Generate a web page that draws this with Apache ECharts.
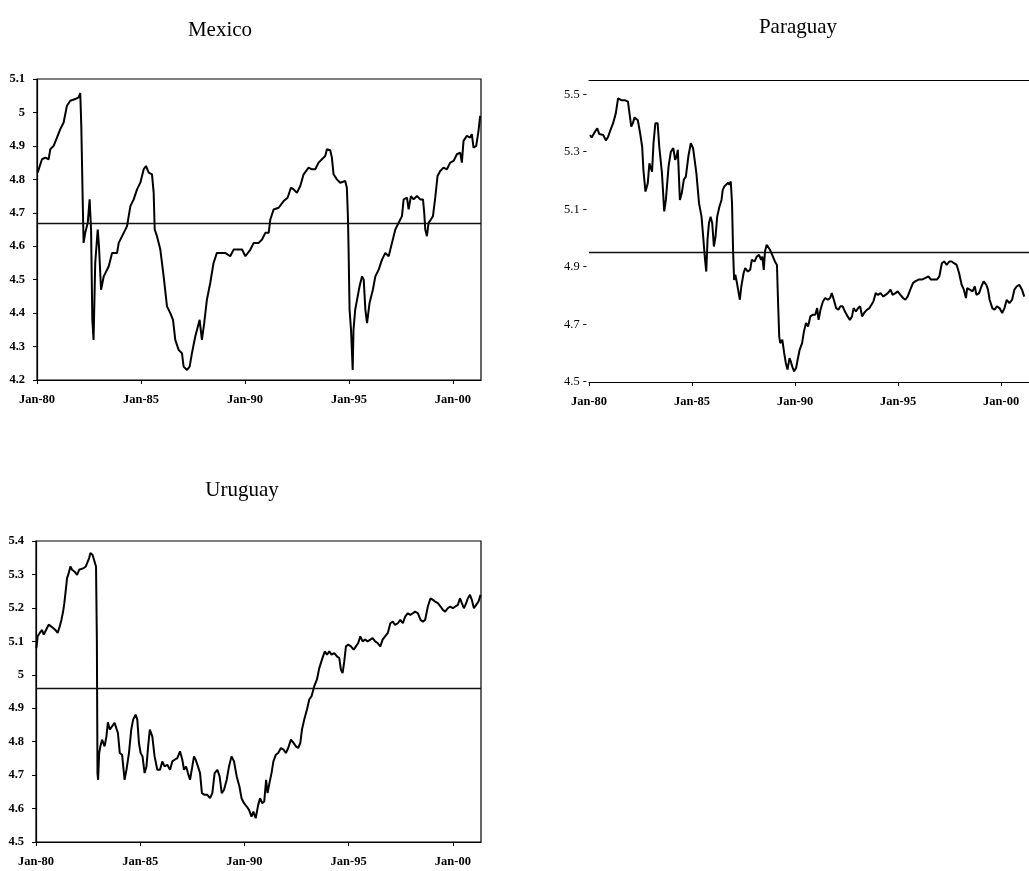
<!DOCTYPE html>
<html>
<head>
<meta charset="utf-8">
<script src="https://cdn.jsdelivr.net/npm/echarts@6/dist/echarts.min.js"></script>
<style>
html,body{margin:0;padding:0;background:#fff;}
#chart{width:1029px;height:871px;}
</style>
</head>
<body>
<div id="chart"></div>
<script>
// Mexico
const mexYears = [1980.03,1980.24,1980.40,1980.56,1980.64,1980.80,1980.96,1981.12,1981.28,1981.44,1981.60,1981.84,1982.00,1982.08,1982.13,1982.20,1982.24,1982.32,1982.44,1982.53,1982.60,1982.66,1982.72,1982.80,1982.92,1982.98,1983.08,1983.21,1983.45,1983.61,1983.85,1983.93,1984.17,1984.33,1984.49,1984.65,1984.81,1984.97,1985.13,1985.24,1985.37,1985.53,1985.61,1985.66,1985.77,1985.93,1986.09,1986.25,1986.41,1986.54,1986.65,1986.81,1986.97,1987.05,1987.21,1987.34,1987.45,1987.61,1987.82,1987.93,1988.04,1988.17,1988.33,1988.49,1988.65,1988.81,1989.05,1989.29,1989.46,1989.70,1989.86,1990.02,1990.26,1990.42,1990.66,1990.82,1990.98,1991.14,1991.22,1991.38,1991.62,1991.86,1992.05,1992.21,1992.34,1992.50,1992.66,1992.82,1993.06,1993.22,1993.38,1993.54,1993.70,1993.86,1993.94,1994.10,1994.18,1994.26,1994.42,1994.58,1994.82,1994.90,1994.95,1994.98,1995.03,1995.10,1995.18,1995.22,1995.30,1995.42,1995.51,1995.63,1995.71,1995.79,1995.87,1995.99,1996.15,1996.27,1996.43,1996.59,1996.75,1996.91,1997.07,1997.23,1997.39,1997.55,1997.63,1997.79,1997.87,1997.98,1998.11,1998.27,1998.43,1998.56,1998.62,1998.67,1998.75,1998.83,1998.94,1999.04,1999.15,1999.26,1999.39,1999.55,1999.71,1999.87,2000.03,2000.19,2000.35,2000.43,2000.51,2000.67,2000.83,2000.91,2000.99,2001.12,2001.23,2001.31];
const mexValues = [4.82,4.86,4.865,4.86,4.89,4.90,4.925,4.95,4.97,5.02,5.035,5.04,5.045,5.058,4.96,4.73,4.61,4.64,4.67,4.74,4.65,4.38,4.32,4.55,4.65,4.60,4.47,4.51,4.54,4.58,4.58,4.61,4.64,4.66,4.72,4.74,4.77,4.79,4.83,4.84,4.82,4.815,4.76,4.65,4.63,4.59,4.51,4.42,4.40,4.38,4.32,4.29,4.28,4.24,4.23,4.24,4.28,4.33,4.38,4.32,4.37,4.44,4.49,4.55,4.58,4.58,4.58,4.57,4.59,4.59,4.59,4.57,4.59,4.61,4.61,4.62,4.64,4.64,4.68,4.71,4.715,4.735,4.745,4.775,4.77,4.76,4.78,4.815,4.835,4.83,4.83,4.85,4.86,4.87,4.89,4.887,4.865,4.815,4.80,4.79,4.795,4.775,4.69,4.60,4.41,4.35,4.23,4.35,4.41,4.45,4.48,4.51,4.50,4.41,4.37,4.43,4.47,4.51,4.53,4.56,4.58,4.57,4.61,4.65,4.67,4.69,4.74,4.745,4.71,4.75,4.74,4.75,4.74,4.74,4.70,4.65,4.63,4.67,4.68,4.69,4.745,4.81,4.825,4.835,4.83,4.85,4.855,4.875,4.88,4.85,4.915,4.93,4.925,4.935,4.895,4.90,4.945,4.99];
const mexMean = 4.675;

// Paraguay
const parYears = [1980.05,1980.13,1980.29,1980.40,1980.50,1980.69,1980.82,1980.93,1981.04,1981.17,1981.30,1981.41,1981.49,1981.57,1981.73,1981.89,1981.97,1982.05,1982.13,1982.21,1982.37,1982.48,1982.58,1982.64,1982.74,1982.85,1982.93,1983.06,1983.13,1983.22,1983.33,1983.41,1983.54,1983.65,1983.73,1983.86,1983.97,1984.09,1984.18,1984.25,1984.31,1984.41,1984.50,1984.60,1984.70,1984.82,1984.94,1985.05,1985.14,1985.21,1985.34,1985.46,1985.54,1985.63,1985.69,1985.75,1985.82,1985.90,1985.98,1986.06,1986.14,1986.22,1986.33,1986.43,1986.49,1986.57,1986.65,1986.75,1986.81,1986.88,1986.94,1986.99,1987.04,1987.10,1987.18,1987.26,1987.32,1987.39,1987.50,1987.58,1987.71,1987.82,1987.90,1988.03,1988.14,1988.25,1988.35,1988.41,1988.48,1988.54,1988.62,1988.70,1988.78,1988.89,1989.02,1989.12,1989.18,1989.23,1989.28,1989.38,1989.47,1989.55,1989.63,1989.73,1989.79,1989.86,1989.95,1990.05,1990.11,1990.22,1990.34,1990.43,1990.53,1990.63,1990.74,1990.87,1990.98,1991.07,1991.14,1991.23,1991.35,1991.46,1991.59,1991.70,1991.78,1991.88,1991.99,1992.10,1992.20,1992.31,1992.42,1992.55,1992.66,1992.76,1992.84,1992.95,1993.06,1993.16,1993.25,1993.35,1993.48,1993.61,1993.70,1993.80,1993.91,1994.02,1994.15,1994.28,1994.39,1994.50,1994.63,1994.73,1994.87,1994.98,1995.11,1995.24,1995.35,1995.46,1995.59,1995.72,1995.83,1995.99,1996.15,1996.31,1996.47,1996.59,1996.71,1996.88,1997.00,1997.12,1997.23,1997.36,1997.48,1997.60,1997.71,1997.84,1997.96,1998.08,1998.19,1998.29,1998.35,1998.48,1998.61,1998.72,1998.80,1998.93,1999.04,1999.15,1999.28,1999.36,1999.44,1999.57,1999.68,1999.79,1999.92,2000.05,2000.16,2000.27,2000.40,2000.53,2000.64,2000.75,2000.88,2001.01,2001.12];
const parValues = [5.359,5.35,5.37,5.382,5.362,5.359,5.34,5.353,5.376,5.40,5.434,5.486,5.49,5.48,5.48,5.475,5.48,5.388,5.40,5.42,5.41,5.365,5.318,5.237,5.162,5.19,5.26,5.231,5.33,5.40,5.40,5.318,5.226,5.093,5.133,5.249,5.30,5.313,5.272,5.284,5.307,5.133,5.156,5.203,5.214,5.284,5.33,5.313,5.307,5.226,5.121,5.075,5.006,4.925,4.884,4.994,5.052,5.075,5.052,4.971,5.006,5.075,5.11,5.133,5.168,5.18,5.174,5.193,5.186,5.197,5.121,4.96,4.855,4.873,4.844,4.85,4.786,4.832,4.878,4.896,4.884,4.89,4.925,4.919,4.936,4.942,4.925,4.936,4.89,4.954,4.977,4.971,4.96,4.942,4.919,4.907,4.763,4.658,4.635,4.647,4.601,4.566,4.543,4.583,4.572,4.554,4.537,4.549,4.572,4.612,4.635,4.676,4.705,4.693,4.728,4.734,4.734,4.757,4.716,4.75,4.78,4.792,4.786,4.792,4.809,4.786,4.757,4.751,4.763,4.763,4.745,4.728,4.716,4.728,4.757,4.745,4.757,4.763,4.728,4.74,4.751,4.757,4.763,4.78,4.809,4.803,4.809,4.797,4.803,4.809,4.821,4.803,4.809,4.815,4.803,4.792,4.786,4.797,4.821,4.844,4.85,4.856,4.856,4.861,4.867,4.856,4.856,4.856,4.867,4.913,4.919,4.907,4.919,4.919,4.913,4.907,4.878,4.838,4.821,4.792,4.826,4.821,4.815,4.832,4.803,4.809,4.832,4.85,4.838,4.821,4.786,4.757,4.751,4.763,4.757,4.74,4.757,4.786,4.774,4.786,4.821,4.832,4.838,4.821,4.797];
const parMean = 4.95;

// Uruguay
const uruYears = [1980.02,1980.08,1980.18,1980.29,1980.37,1980.45,1980.53,1980.61,1980.69,1980.82,1980.93,1981.04,1981.14,1981.22,1981.30,1981.36,1981.43,1981.49,1981.57,1981.65,1981.73,1981.84,1981.97,1982.07,1982.16,1982.29,1982.39,1982.48,1982.55,1982.61,1982.71,1982.80,1982.88,1982.92,1982.95,1982.98,1983.03,1983.09,1983.17,1983.29,1983.38,1983.45,1983.54,1983.65,1983.77,1983.86,1983.93,1984.02,1984.13,1984.25,1984.34,1984.46,1984.57,1984.66,1984.78,1984.86,1984.94,1985.02,1985.11,1985.21,1985.30,1985.38,1985.46,1985.58,1985.69,1985.82,1985.95,1986.06,1986.17,1986.30,1986.43,1986.54,1986.65,1986.78,1986.91,1987.02,1987.10,1987.20,1987.29,1987.39,1987.50,1987.58,1987.66,1987.77,1987.87,1987.96,1988.09,1988.22,1988.35,1988.46,1988.57,1988.70,1988.81,1988.91,1989.02,1989.15,1989.26,1989.38,1989.50,1989.63,1989.76,1989.86,1989.98,1990.11,1990.22,1990.34,1990.43,1990.54,1990.66,1990.75,1990.85,1990.95,1991.04,1991.11,1991.20,1991.30,1991.39,1991.51,1991.62,1991.75,1991.88,1991.99,1992.10,1992.23,1992.36,1992.47,1992.58,1992.68,1992.76,1992.87,1993.00,1993.11,1993.22,1993.35,1993.48,1993.59,1993.67,1993.77,1993.86,1993.96,1994.07,1994.18,1994.31,1994.44,1994.55,1994.63,1994.71,1994.79,1994.87,1994.98,1995.11,1995.24,1995.35,1995.46,1995.56,1995.67,1995.79,1995.91,1996.04,1996.15,1996.27,1996.39,1996.52,1996.63,1996.75,1996.88,1997.00,1997.12,1997.23,1997.36,1997.48,1997.60,1997.71,1997.84,1997.96,1998.08,1998.19,1998.32,1998.45,1998.56,1998.67,1998.80,1998.93,1999.04,1999.15,1999.28,1999.41,1999.52,1999.63,1999.76,1999.87,2000.00,2000.11,2000.24,2000.34,2000.43,2000.53,2000.64,2000.72,2000.82,2000.91,2001.01,2001.12,2001.23,2001.33];
const uruValues = [5.08,5.115,5.125,5.134,5.12,5.115,5.14,5.15,5.145,5.14,5.134,5.125,5.145,5.164,5.189,5.214,5.254,5.289,5.304,5.324,5.314,5.309,5.299,5.314,5.319,5.319,5.324,5.329,5.349,5.364,5.359,5.354,5.324,5.105,4.706,4.686,4.766,4.786,4.806,4.786,4.816,4.858,4.836,4.846,4.856,4.861,4.826,4.766,4.761,4.686,4.716,4.766,4.836,4.866,4.881,4.866,4.796,4.766,4.756,4.706,4.726,4.786,4.836,4.816,4.756,4.716,4.716,4.741,4.726,4.731,4.716,4.741,4.746,4.751,4.771,4.746,4.716,4.726,4.706,4.686,4.726,4.756,4.746,4.726,4.706,4.646,4.641,4.641,4.631,4.646,4.706,4.716,4.696,4.646,4.656,4.686,4.726,4.756,4.741,4.696,4.666,4.631,4.616,4.606,4.596,4.576,4.591,4.571,4.611,4.631,4.616,4.621,4.686,4.646,4.676,4.706,4.741,4.761,4.766,4.781,4.776,4.766,4.781,4.806,4.796,4.786,4.781,4.796,4.836,4.866,4.896,4.926,4.936,4.966,4.986,5.02,5.025,5.055,5.07,5.06,5.07,5.06,5.065,5.055,5.05,5.015,5.005,5.04,5.085,5.09,5.085,5.075,5.085,5.095,5.115,5.10,5.105,5.10,5.105,5.11,5.10,5.095,5.085,5.105,5.115,5.125,5.154,5.159,5.149,5.154,5.164,5.154,5.174,5.184,5.179,5.184,5.189,5.184,5.164,5.159,5.164,5.204,5.229,5.224,5.219,5.214,5.204,5.194,5.189,5.199,5.204,5.199,5.204,5.209,5.229,5.214,5.199,5.214,5.229,5.239,5.224,5.199,5.209,5.219,5.239];
const uruMean = 4.957;

const xStart = 1980;
const xEnd = 2001.35;
const yearStep = 5;

const zip = (xs, ys) => xs.map((x, i) => [x, ys[i]]);
const serif = 'Liberation Serif';

const xLabel = v => (v % 5 === 0 ? 'Jan-' + String(v % 100).padStart(2, '0') : '');

function makeX(grid, opts = {}) {
  return {
    type: 'value', gridIndex: grid, min: xStart, max: xEnd, interval: yearStep,
    axisLine: { show: true, lineStyle: { color: '#000', width: 1.2 } },
    axisTick: { show: true, length: 4, lineStyle: { color: '#000' } },
    splitLine: { show: false },
    axisLabel: {
      formatter: xLabel, showMaxLabel: false, margin: 13,
      fontFamily: serif, fontSize: 12.5, fontWeight: 'bold', color: '#000'
    },
    ...opts
  };
}

function makeY(grid, min, max, opts = {}) {
  return {
    type: 'value', gridIndex: grid, min: min, max: max, interval: 0.1,
    axisLine: { show: true, lineStyle: { color: '#000', width: 1.2 } },
    axisTick: { show: true, length: 4, lineStyle: { color: '#000' } },
    splitLine: { show: false },
    axisLabel: {
      formatter: v => String(Math.round(v * 10) / 10), margin: 12,
      fontFamily: serif, fontSize: 12.5, fontWeight: 'bold', color: '#000'
    },
    ...opts
  };
}

function makeLine(name, xi, yi, data, mean) {
  return {
    name: name, type: 'line', xAxisIndex: xi, yAxisIndex: yi,
    data: data, showSymbol: false, symbol: 'none',
    lineStyle: { color: '#000', width: 2 },
    markLine: {
      silent: true, symbol: 'none', label: { show: false },
      lineStyle: { color: '#111', width: 1.3, type: 'solid' },
      data: [{ yAxis: mean }]
    }
  };
}

const chart = echarts.init(document.getElementById('chart'));

const option = {
  animation: false,
  backgroundColor: '#fff',
  title: [
    { text: 'Mexico', left: 215, top: 25, textAlign: 'center', textVerticalAlign: 'middle',
      textStyle: { fontFamily: serif, fontSize: 21, fontWeight: 'normal', color: '#000' } },
    { text: 'Paraguay', left: 793, top: 22, textAlign: 'center', textVerticalAlign: 'middle',
      textStyle: { fontFamily: serif, fontSize: 21, fontWeight: 'normal', color: '#000' } },
    { text: 'Uruguay', left: 237, top: 485, textAlign: 'center', textVerticalAlign: 'middle',
      textStyle: { fontFamily: serif, fontSize: 21, fontWeight: 'normal', color: '#000' } }
  ],
  grid: [
    { left: 37, right: 548, top: 79, bottom: 491, show: true, borderColor: '#000', borderWidth: 1.2 },
    { left: 589, right: -4, top: 80, bottom: 489 },
    { left: 36, right: 548, top: 541, bottom: 29, show: true, borderColor: '#000', borderWidth: 1.2 }
  ],
  xAxis: [
    makeX(0),
    makeX(1),
    makeX(2),
    // top rule of the Paraguay panel
    makeX(1, { position: 'top', axisTick: { show: false }, axisLabel: { show: false } })
  ],
  yAxis: [
    makeY(0, 4.2, 5.1),
    makeY(1, 4.5, 5.55, {
      axisLine: { show: false },
      axisTick: { show: false },
      axisLabel: {
        formatter: v => {
          const k = Math.round(v * 10);
          return (k % 2 === 1 && Math.abs(v * 10 - k) < 0.01) ? (k / 10).toFixed(1) + ' -' : '';
        },
        margin: 2, fontFamily: serif, fontSize: 12.5, color: '#000'
      }
    }),
    makeY(2, 4.5, 5.4)
  ],
  series: [
    makeLine('Mexico', 0, 0, zip(mexYears, mexValues), mexMean),
    makeLine('Paraguay', 1, 1, zip(parYears, parValues), parMean),
    makeLine('Uruguay', 2, 2, zip(uruYears, uruValues), uruMean)
  ]
};

chart.setOption(option);
</script>
</body>
</html>
